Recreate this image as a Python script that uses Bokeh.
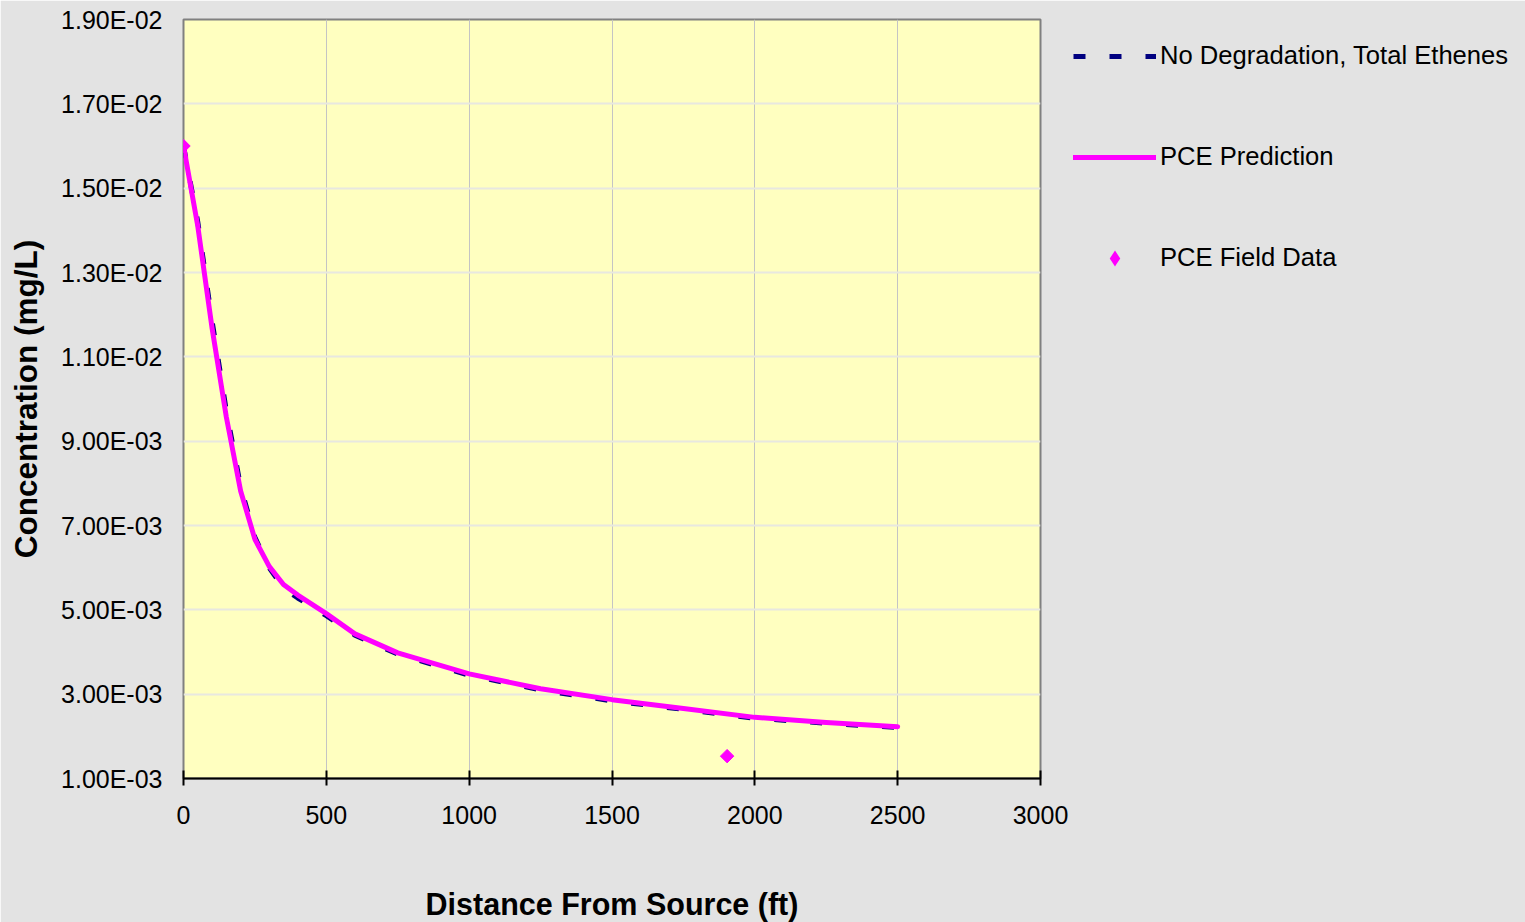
import math
from bokeh.plotting import figure
from bokeh.models import Legend, LegendItem, FixedTicker, CustomJSTickFormatter, Range1d
from bokeh.embed import file_html
from bokeh.resources import INLINE

# ---- data ----
distance_ft = [0, 50, 100, 150, 200, 250, 300, 350, 400, 500, 600, 750,
               1000, 1250, 1500, 1750, 2000, 2250, 2500]
pce_prediction = [0.0160, 0.0141, 0.01168, 0.00957, 0.00782, 0.00667, 0.00603,
                  0.00560, 0.00535, 0.00491, 0.00443, 0.00398, 0.00348, 0.00313,
                  0.00287, 0.00266, 0.00245, 0.00233, 0.00223]
no_degradation = [0.0160, 0.0142, 0.01185, 0.00972, 0.00792, 0.00672, 0.00600,
                  0.00552, 0.00528, 0.00486, 0.00440, 0.00395, 0.00345, 0.00310,
                  0.00284, 0.00264, 0.00243, 0.00231, 0.00221]
field_distance_ft = [0, 1903]
field_pce = [0.0160, 0.00153]

x_ticks = [0, 500, 1000, 1500, 2000, 2500, 3000]
y_ticks = [0.001, 0.003, 0.005, 0.007, 0.009, 0.011, 0.013, 0.015, 0.017, 0.019]

FONT = "Liberation Sans"
BG = "#e3e3e3"

p = figure(width=1510, height=908, output_backend="svg", toolbar_location=None,
           x_range=Range1d(0, 3000), y_range=Range1d(0.001, 0.019),
           frame_width=857, frame_height=759,
           min_border_left=183, min_border_top=19, min_border_right=470,
           min_border_bottom=130)
p.background_fill_color = "#ffffc0"
p.border_fill_color = BG
p.outline_line_color = "#808080"
p.outline_line_width = 2

# grids
p.xgrid.grid_line_color = "#c4c4c4"
p.xgrid.grid_line_width = 1
p.ygrid.grid_line_color = "#e8e8e0"
p.ygrid.grid_line_width = 2

# x axis
xa = p.xaxis[0]
xa.ticker = FixedTicker(ticks=x_ticks)
xa.axis_line_color = "black"
xa.axis_line_width = 2
xa.major_tick_line_color = "black"
xa.major_tick_line_width = 2
xa.major_tick_in = 8
xa.major_tick_out = 7
xa.minor_tick_line_color = None
xa.major_label_text_font = FONT
xa.major_label_text_font_size = "25px"
xa.major_label_text_color = "black"
xa.major_label_standoff = 20
xa.axis_label = "Distance From Source (ft)"
xa.axis_label_text_font = FONT
xa.axis_label_text_font_size = "30.5px"
xa.axis_label_text_font_style = "bold"
xa.axis_label_text_color = "black"
xa.axis_label_standoff = 60

# y axis
ya = p.yaxis[0]
ya.ticker = FixedTicker(ticks=y_ticks)
ya.formatter = CustomJSTickFormatter(code="""
const s = tick.toExponential(2);
const parts = s.split('e');
const n = parseInt(parts[1]);
return parts[0] + 'E' + (n < 0 ? '-' : '+') + String(Math.abs(n)).padStart(2, '0');
""")
ya.axis_line_color = None
ya.major_tick_line_color = None
ya.minor_tick_line_color = None
ya.major_label_text_font = FONT
ya.major_label_text_font_size = "25px"
ya.major_label_text_color = "black"
ya.major_label_standoff = 15
ya.axis_label = "Concentration (mg/L)"
ya.axis_label_text_font = FONT
ya.axis_label_text_font_size = "31.5px"
ya.axis_label_text_font_style = "bold"
ya.axis_label_text_color = "black"
ya.axis_label_standoff = 14

# series
r_nodeg = p.line(distance_ft, no_degradation, line_color="#000080", line_width=5,
                 line_dash="12 24")
r_pce = p.line(distance_ft, pce_prediction, line_color="#ff00ff", line_width=5,
               line_cap="round", line_join="round")
r_field = p.scatter(field_distance_ft, field_pce, marker="diamond", size=8,
                    line_width=3, line_join="miter",
                    fill_color="#ff00ff", line_color="#ff00ff")
p.scatter(field_distance_ft, field_pce, marker="square", size=9.5,
          angle=math.pi / 4, fill_color="#ff00ff", line_color="#ff00ff")

legend = Legend(items=[
    LegendItem(label="No Degradation, Total Ethenes", renderers=[r_nodeg]),
    LegendItem(label="PCE Prediction", renderers=[r_pce]),
    LegendItem(label="PCE Field Data", renderers=[r_field]),
], location=(33, 506))
legend.background_fill_alpha = 0
legend.border_line_color = None
legend.padding = 0
legend.margin = 0
legend.glyph_width = 83
legend.glyph_height = 26
legend.label_height = 28
legend.spacing = 72
legend.label_standoff = 4
legend.label_text_font = FONT
legend.label_text_font_size = "25.6px"
legend.label_text_color = "black"
p.add_layout(legend, "right")

open("out.html", "w").write(file_html(p, INLINE))
